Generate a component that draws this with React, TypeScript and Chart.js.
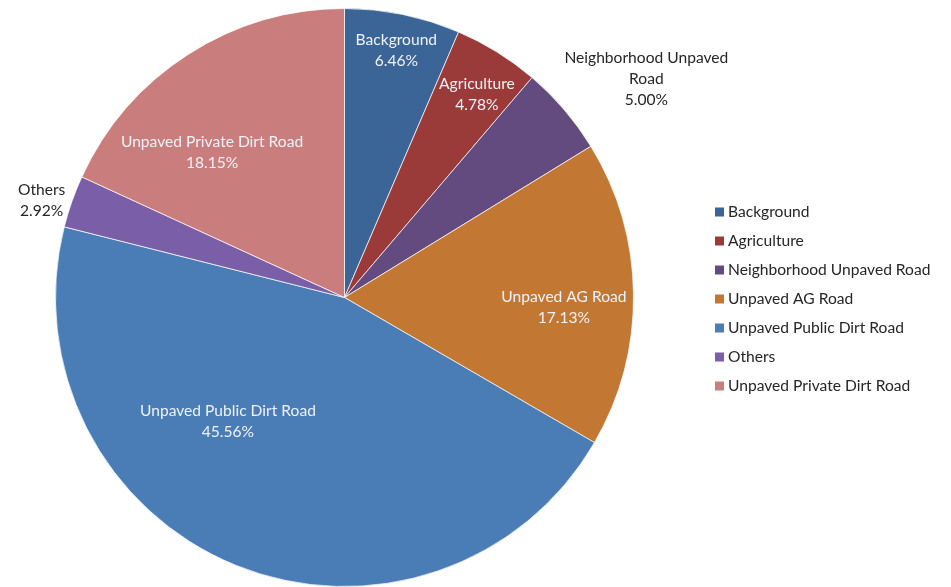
import React, { useEffect, useRef } from "react";
import { Chart, registerables } from "chart.js";

Chart.register(...registerables);

const categories = [
  "Background",
  "Agriculture",
  "Neighborhood Unpaved Road",
  "Unpaved AG Road",
  "Unpaved Public Dirt Road",
  "Others",
  "Unpaved Private Dirt Road",
];
const sliceLabels = [
  "Background",
  "Agriculture",
  "Neighborhood Unpaved\nRoad",
  "Unpaved AG Road",
  "Unpaved Public Dirt Road",
  "Others",
  "Unpaved Private Dirt Road",
];
const values = [6.46, 4.78, 5.0, 17.13, 45.56, 2.92, 18.15];
const colors = ["#3C6597", "#9A3B39", "#634B80", "#C27833", "#4A7CB5", "#7A5EA7", "#C97D7C"];

// label placement (radius fraction of outer radius, angular shift in degrees, text color)
const labelPlacement = [
  { r: 0.875, shift: 0.2, color: "#EEF2F8" },
  { r: 0.84, shift: 1.2, color: "#EEF2F8" },
  { r: 1.29, shift: 4.6, color: "#262626" },
  { r: 0.76, shift: 3.2, color: "#EEF2F8" },
  { r: 0.59, shift: 21, color: "#EEF2F8" },
  { r: 1.1, shift: -1.7, color: "#262626" },
  { r: 0.68, shift: -9.7, color: "#EEF2F8" },
];

const FONT = "Lato, 'Open Sans', sans-serif";

const labelPlugin = {
  id: "sliceLabels",
  afterDatasetsDraw(chart: any) {
    const ctx = chart.ctx;
    const meta = chart.getDatasetMeta(0);
    ctx.save();
    ctx.font = `15.6px ${FONT}`;
    ctx.textAlign = "center";
    ctx.textBaseline = "middle";
    meta.data.forEach((arc: any, i: number) => {
      const p = arc.getProps(["x", "y", "startAngle", "endAngle", "outerRadius"], true);
      const pl = labelPlacement[i];
      const mid = (p.startAngle + p.endAngle) / 2 + (pl.shift * Math.PI) / 180;
      const cx = p.x + Math.cos(mid) * p.outerRadius * pl.r;
      const cy = p.y + Math.sin(mid) * p.outerRadius * pl.r;
      const lines = sliceLabels[i].split("\n");
      lines.push(values[i].toFixed(2) + "%");
      const lh = 21;
      const top = cy - ((lines.length - 1) * lh) / 2;
      ctx.fillStyle = pl.color;
      lines.forEach((t, k) => ctx.fillText(t, cx, top + k * lh));
    });
    // legend
    const lx = 715;
    const ly0 = 212;
    const step = 29;
    ctx.textAlign = "left";
    categories.forEach((c, i) => {
      const y = ly0 + i * step;
      ctx.fillStyle = colors[i];
      ctx.fillRect(lx, y - 4.5, 9, 9);
      ctx.fillStyle = "#262626";
      ctx.fillText(c, lx + 13, y);
    });
    ctx.restore();
  },
};

export default function App() {
  const ref = useRef<HTMLCanvasElement | null>(null);
  useEffect(() => {
    document.body.style.margin = "0";
    const chart = new Chart(ref.current as HTMLCanvasElement, {
      type: "pie",
      data: {
        labels: categories,
        datasets: [
          {
            data: values,
            backgroundColor: colors,
            borderColor: "rgba(255,255,255,0.7)",
            borderWidth: 1,
          },
        ],
      },
      options: {
        animation: false,
        responsive: true,
        maintainAspectRatio: false,
        layout: { padding: { left: 55, right: 317, top: 8, bottom: 0 } },
        plugins: { legend: { display: false }, tooltip: { enabled: false } },
      },
      plugins: [labelPlugin],
    });
    return () => chart.destroy();
  }, []);
  return (
    <div style={{ position: "absolute", left: 0, top: 0, width: 951, height: 587, background: "#fff" }}>
      <canvas ref={ref} />
    </div>
  );
}
